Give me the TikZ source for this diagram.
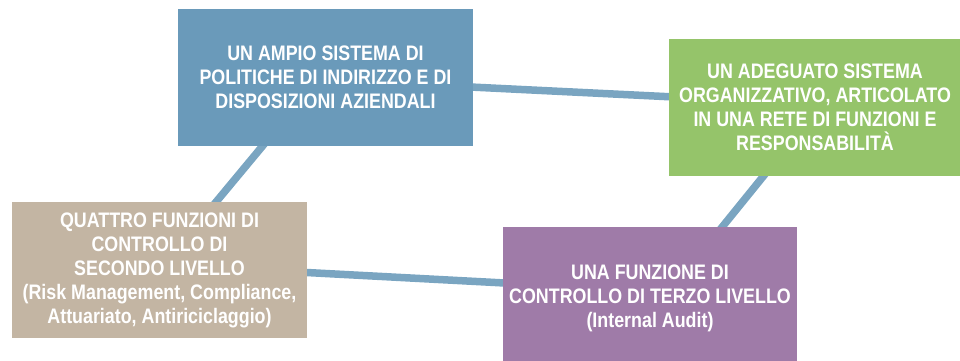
\documentclass[tikz,border=0pt]{standalone}
\usepackage{fontspec}
\setmainfont{Liberation Sans}[FakeStretch=0.85]
\usetikzlibrary{backgrounds}
\definecolor{cblue}{HTML}{6A9ABA}
\definecolor{cgreen}{HTML}{95C46A}
\definecolor{cbeige}{HTML}{C3B5A3}
\definecolor{cpurple}{HTML}{9F7BA8}
\definecolor{clink}{HTML}{7AA5C1}
\begin{document}
\begin{tikzpicture}[x=1pt,y=-1pt,
  box/.style={rectangle, inner sep=0pt, text=white, align=center,
    font=\fontsize{21}{24}\selectfont\bfseries},
  link/.style={draw=clink, line width=7.5pt}]
\useasboundingbox (0,0) rectangle (960,360);
\node[box, fill=cblue, minimum width=295pt, minimum height=137pt] (a) at (325.5,77.5)
  {UN AMPIO SISTEMA DI\\POLITICHE DI INDIRIZZO E DI\\DISPOSIZIONI AZIENDALI};
\node[box, fill=cgreen, minimum width=292pt, minimum height=137pt] (b) at (815,107.5)
  {UN ADEGUATO SISTEMA\\ORGANIZZATIVO, ARTICOLATO\\IN UNA RETE DI FUNZIONI E\\RESPONSABILIT\`A};
\node[box, fill=cbeige, minimum width=295pt, minimum height=136pt] (c) at (159.5,270)
  {QUATTRO FUNZIONI DI\\CONTROLLO DI\\SECONDO LIVELLO\\(Risk Management, Compliance,\\Attuariato, Antiriciclaggio)};
\node[box, fill=cpurple, minimum width=294pt, minimum height=142pt] (d) at (650,298)
  {UNA FUNZIONE DI\\CONTROLLO DI TERZO LIVELLO\\(Internal Audit)};
\begin{scope}[on background layer]
\path[link] ([yshift=-2.4pt]a.center) -- ([yshift=3.7pt,xshift=-1.5pt]b.center);
\path[link] ([xshift=-6pt]a.center) -- (c.center);
\path[link] ([xshift=4pt]b.center) -- ([xshift=11pt,yshift=-4.5pt]d.center);
\path[link] ([yshift=5.3pt]c.center) -- ([yshift=7.3pt]d.center);
\end{scope}
\end{tikzpicture}
\end{document}
